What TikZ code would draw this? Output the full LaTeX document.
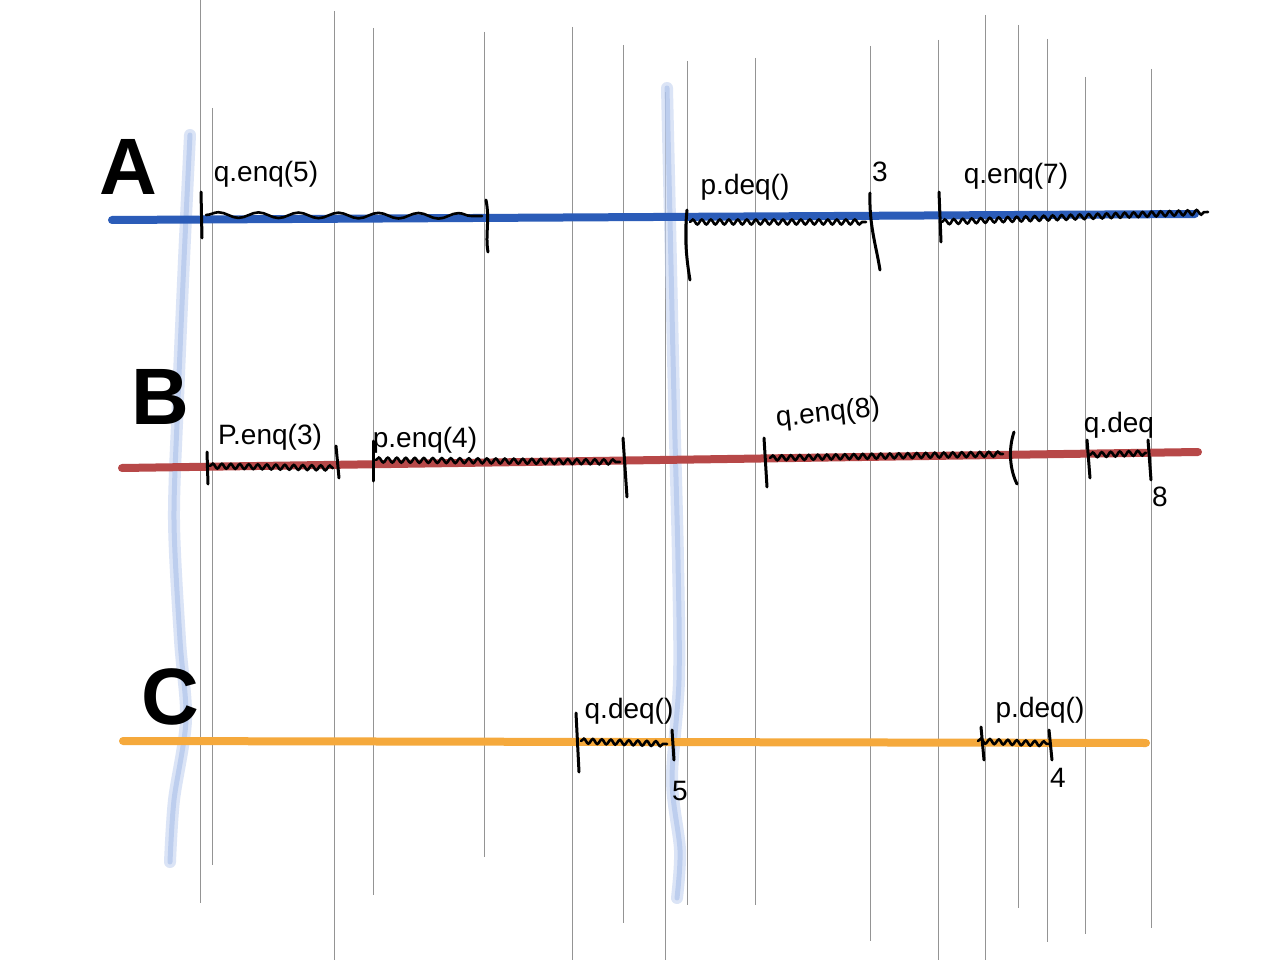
\documentclass[tikz,border=0pt]{standalone}
\usepackage{fontspec}
\setmainfont{Liberation Sans}
\usetikzlibrary{decorations.pathmorphing}
\definecolor{trackA}{RGB}{43,92,184}
\definecolor{trackB}{RGB}{183,72,72}
\definecolor{trackC}{RGB}{245,169,60}
\definecolor{hiblue}{RGB}{196,211,240}
\definecolor{hicore}{RGB}{170,192,234}
\begin{document}
\begin{tikzpicture}[x=1pt,y=-1pt,
  gridline/.style={draw=black!42, line width=0.7pt},
  hilite/.style={draw=hiblue, line width=12pt, line cap=round, opacity=0.6},
  hilitecore/.style={draw=hicore, line width=5pt, line cap=round, opacity=0.6},
  track/.style={line width=8pt, line cap=round},
  tick/.style={draw=black, line width=3pt, line cap=round},
  scrib/.style={draw=black, line width=2.6pt, line cap=round, decorate,
     decoration={snake, amplitude=2.4pt, segment length=9pt}},
  scribw/.style={draw=black, line width=2.6pt, line cap=round, decorate,
     decoration={snake, amplitude=2.8pt, segment length=40pt}},
  lbl/.style={font=\fontsize{28}{30}\selectfont, inner sep=0pt},
  big/.style={font=\fontsize{80}{82}\selectfont\bfseries, inner sep=0pt}]
\useasboundingbox (0,0) rectangle (1280,960);
\fill[white] (0,0) rectangle (1280,960);
% gray time lines
\foreach \x/\a/\b in {200/0/903, 212/108/865, 334/11/960, 373/28/895, 484/32/857,
  572/27/960, 623/45/923, 665/92/960, 687/61/905, 755/58/905, 870/46/941,
  938/40/960, 985/15/960, 1018/25/908, 1047/39/942, 1085/77/934, 1151/69/928}
  \draw[gridline] (\x,\a) -- (\x,\b);
% blue highlight strokes
\foreach \s in {hilite, hilitecore}{
  \draw[\s] plot[smooth] coordinates {(190,135) (184,260) (178,400) (174,520) (180,640) (186,720) (174,800) (170,862)};
  \draw[\s] plot[smooth] coordinates {(667,88) (670,220) (674,400) (678,560) (679,680) (672,780) (680,850) (677,898)};
}
% tracks
\draw[track, draw=trackA] (112,220) -- (1195,214);
\draw[track, draw=trackB] (122,468) -- (1198,452);
\draw[track, draw=trackC] (123,741) -- (1146,743);
% letters
\node[big] (la) at (128,167) {A};
\node[big] (lb) at (160,397) {B};
\node[big] (lc) at (170,697) {C};
% --- A ---
\node[lbl] (a1) at (266,174) {q.enq(5)};
\draw[tick] (201,192) -- (202,238);
\draw[scribw] (206,215) -- (482,216);
\draw[tick] (486,200) .. controls (490,220) and (485,235) .. (488,252);
\node[lbl] (a2) at (745,187) {p.deq()};
\draw[tick] (687,210) .. controls (684,240) and (687,262) .. (690,280);
\draw[scrib] (690,222) -- (866,222);
\draw[tick] (870,193) .. controls (869,225) and (876,245) .. (880,270);
\node[lbl] (a3) at (880,172) {3};
\node[lbl] (a4) at (1016,176) {q.enq(7)};
\draw[tick] (939,192) -- (941,242);
\draw[scrib] (942,222) -- (1208,212);
% --- B ---
\node[lbl] (b1) at (270,437) {P.enq(3)};
\draw[tick] (207,452) -- (208,484);
\draw[scrib] (210,466) -- (333,468);
\draw[tick] (336,446) -- (339,478);
\node[lbl] (b2) at (425,440) {p.enq(4)};
\draw[tick] (373,441) -- (373,481);
\draw[scrib] (376,460) -- (620,462);
\draw[tick] (623,438) -- (627,497);
\node[lbl, rotate=6] (b3) at (828,414) {q.enq(8)};
\draw[tick] (764,438) -- (767,487);
\draw[scrib] (770,458) -- (1003,454);
\draw[tick] (1014,432) .. controls (1008,450) and (1010,470) .. (1017,484);
\node[lbl] (b4) at (1119,425) {q.deq};
\draw[tick] (1087,440) -- (1090,478);
\draw[scrib] (1090,455) -- (1146,453);
\draw[tick] (1148,440) -- (1151,480);
\node[lbl] (b5) at (1160,497) {8};
% --- C ---
\node[lbl] (c1) at (629,711) {q.deq()};
\draw[tick] (576,713) -- (579,772);
\draw[scrib] (581,741) -- (667,744);
\draw[tick] (672,730) -- (674,760);
\node[lbl] (c2) at (680,791) {5};
\node[lbl] (c3) at (1040,710) {p.deq()};
\draw[tick] (981,727) -- (984,760);
\draw[scrib] (978,741) -- (1050,744);
\draw[tick] (1049,730) -- (1052,760);
\node[lbl] (c4) at (1058,778) {4};
\end{tikzpicture}
\end{document}
